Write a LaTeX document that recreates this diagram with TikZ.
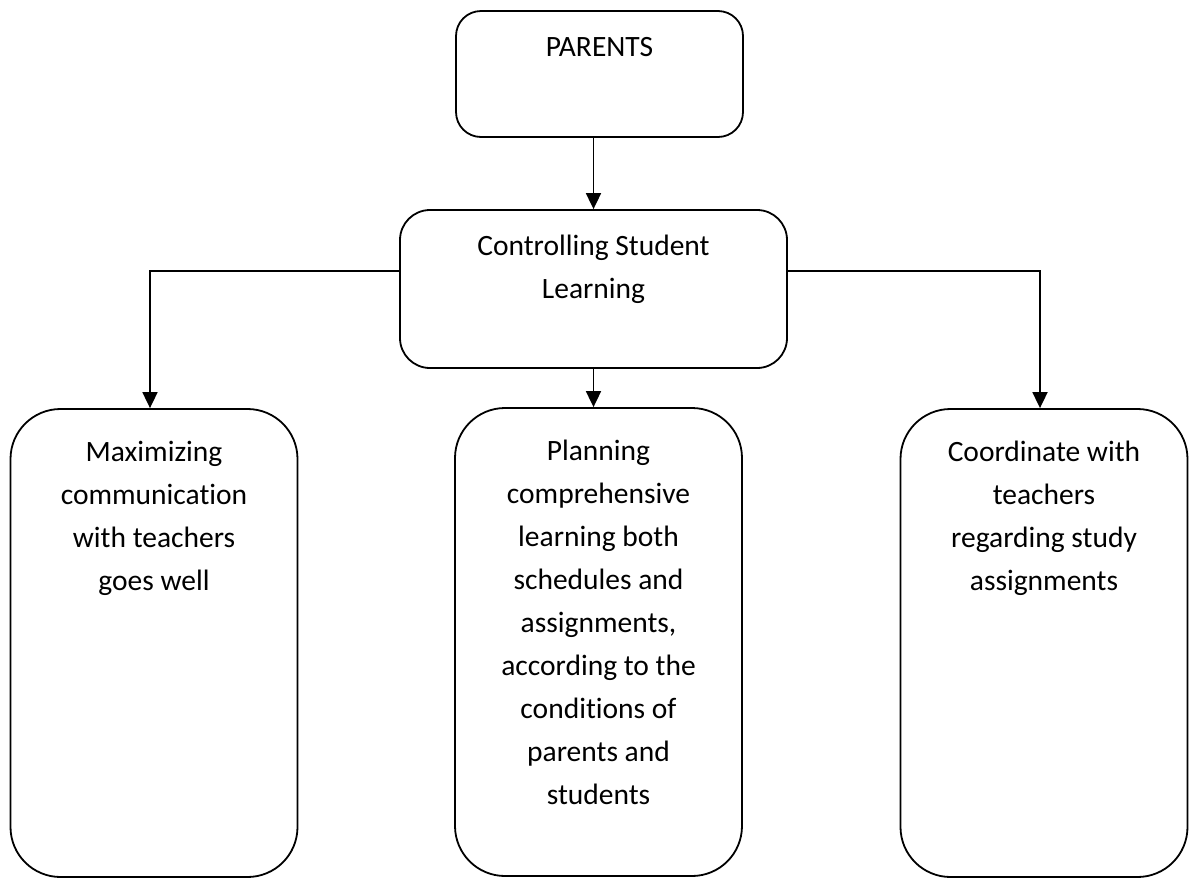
\documentclass[tikz,border=0pt]{standalone}
\usepackage{fontspec}
\setmainfont[Ligatures=NoCommon]{Carlito}
\usetikzlibrary{arrows.meta}

\begin{document}
\begin{tikzpicture}[
  x=1pt, y=-1pt,
  line width=1.8pt,
  font=\fontsize{29.5}{43}\selectfont,
  box/.style={draw, inner sep=0, rounded corners=#1},
  tallbox/.style={box=50pt, minimum width=287pt, minimum height=468pt},
  lbl/.style={anchor=north, align=center, inner sep=0},
  >={Triangle[length=16pt,width=15pt]}
]
\useasboundingbox (0,0) rectangle (1189,879);

\node [box=25pt, minimum width=287pt, minimum height=126pt,
  label={[lbl, yshift=-26pt]north:PARENTS}] (parents) at (599.5,74) {};

\node [box=30pt, minimum width=387pt, minimum height=158pt,
  label={[lbl, yshift=-25pt]north:Controlling Student\\Learning}] (ctrl) at (593.5,289) {};

\node [tallbox, label={[lbl, yshift=-32pt]north:Maximizing\\communication\\with teachers\\goes well}]
  (comm) at (154,643) {};
\node [tallbox, label={[lbl, yshift=-32pt]north:Planning\\comprehensive\\learning both\\schedules and\\assignments,\\according to the\\conditions of\\parents and\\students}]
  (plan) at (598.5,642) {};
\node [tallbox, label={[lbl, yshift=-32pt]north:Coordinate with\\teachers\\regarding study\\assignments}]
  (coord) at (1044,643) {};

\draw [->] (parents.south -| ctrl.north) -- (ctrl.north);
\draw [->] (ctrl.south) -- (ctrl.south |- plan.north);
\draw [->] ([yshift=18pt]ctrl.west) -| ([xshift=-4pt]comm.north);
\draw [->] ([yshift=18pt]ctrl.east) -| ([xshift=-4pt]coord.north);

\end{tikzpicture}
\end{document}
